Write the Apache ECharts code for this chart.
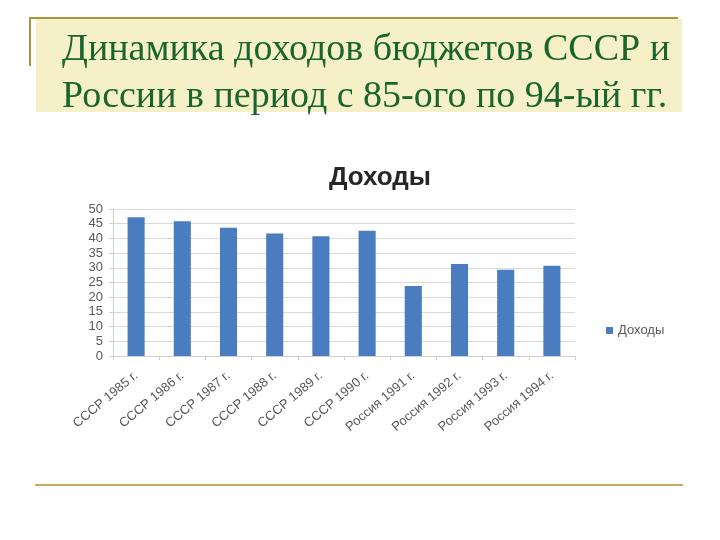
<!DOCTYPE html>
<html>
<head>
<meta charset="utf-8">
<script src="https://cdn.jsdelivr.net/npm/echarts@6/dist/echarts.min.js"></script>
<style>html,body{margin:0;padding:0;background:#fff;}#c{width:720px;height:540px;}</style>
</head>
<body>
<div id="c"></div>
<script>
const categories = ['СССР 1985 г.', 'СССР 1986 г.', 'СССР 1987 г.', 'СССР 1988 г.', 'СССР 1989 г.', 'СССР 1990 г.', 'Россия 1991 г.', 'Россия 1992 г.', 'Россия 1993 г.', 'Россия 1994 г.'];
const incomes = [47.2, 45.8, 43.6, 41.7, 40.7, 42.6, 23.8, 31.3, 29.3, 30.7];
const seriesName = 'Доходы';
const titleLines = ['Динамика доходов бюджетов СССР и', 'России в период с 85-ого по 94-ый гг.'];

const chart = echarts.init(document.getElementById('c'), null, {renderer: 'canvas'});
chart.setOption({
  backgroundColor: '#ffffff',
  animation: false,
  title: {
    text: 'Доходы',
    left: 375, top: 160,
    textAlign: 'center',
    textStyle: {fontFamily: 'Liberation Sans', fontWeight: 'bold', fontSize: 26, color: '#262626'}
  },
  legend: {
    data: [seriesName],
    left: 601, top: 319,
    icon: 'rect', itemWidth: 7, itemHeight: 7, itemGap: 4,
    textStyle: {fontFamily: 'Liberation Sans', fontSize: 13, color: '#595959'}
  },
  grid: {left: 113, right: 145, top: 209, bottom: 184, containLabel: false},
  xAxis: {
    type: 'category',
    data: categories,
    axisLine: {lineStyle: {color: '#d0d0d0'}},
    axisTick: {show: true, length: 4, lineStyle: {color: '#d0d0d0'}},
    axisLabel: {rotate: 40, interval: 0, fontFamily: 'Liberation Sans', fontSize: 13, color: '#595959', margin: 18}
  },
  yAxis: {
    type: 'value',
    min: 0, max: 50, interval: 5,
    axisLine: {show: true, lineStyle: {color: '#d0d0d0'}},
    axisTick: {show: true, length: 4, lineStyle: {color: '#d0d0d0'}},
    axisLabel: {fontFamily: 'Liberation Sans', fontSize: 13, color: '#595959', margin: 10},
    splitLine: {lineStyle: {color: '#d9d9d9', width: 1}}
  },
  series: [{
    name: seriesName,
    type: 'bar',
    data: incomes,
    barWidth: '37%',
    itemStyle: {color: '#4a7dbf'}
  }],
  graphic: [
    {type: 'rect', shape: {x: 36, y: 19, width: 646, height: 93}, style: {fill: '#f6f0c8'}, z: -10},
    {type: 'line', shape: {x1: 29, y1: 18, x2: 678, y2: 18}, style: {stroke: '#a8963a', lineWidth: 2}},
    {type: 'line', shape: {x1: 30, y1: 17, x2: 30, y2: 66}, style: {stroke: '#a8963a', lineWidth: 2}},
    {type: 'line', shape: {x1: 35, y1: 485, x2: 683, y2: 485}, style: {stroke: '#c9a862', lineWidth: 2}},
    {type: 'text', left: 62, top: 31, style: {text: titleLines[0], font: '38px "Liberation Serif"', fill: '#1a652b'}},
    {type: 'text', left: 62, top: 78, style: {text: titleLines[1], font: '38px "Liberation Serif"', fill: '#1a652b'}}
  ]
});
</script>
</body>
</html>
